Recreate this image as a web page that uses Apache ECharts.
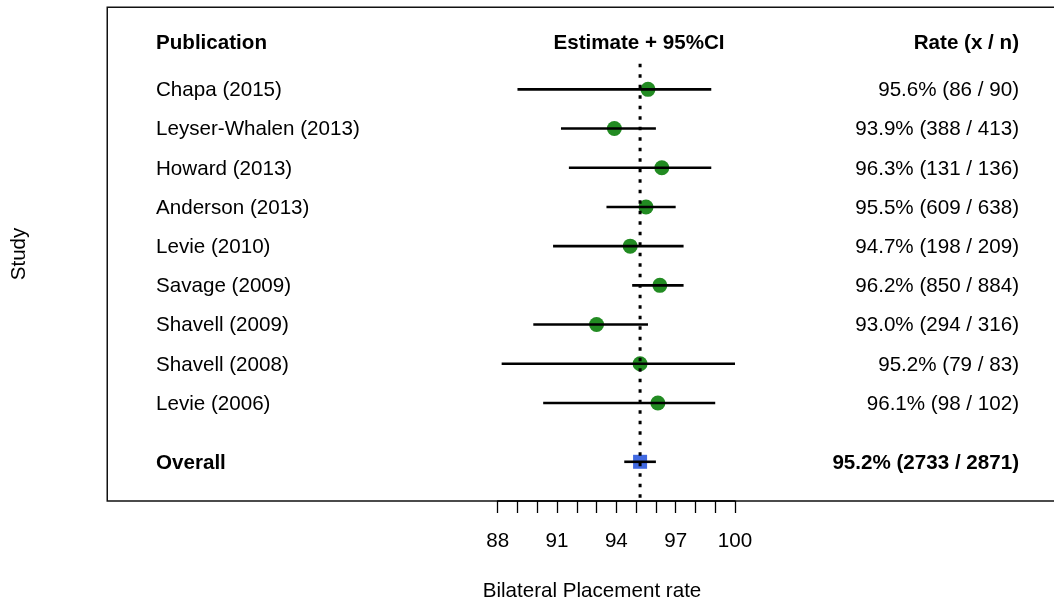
<!DOCTYPE html>
<html>
<head>
<meta charset="utf-8">
<script src="https://cdn.jsdelivr.net/npm/echarts@6/dist/echarts.min.js"></script>
<style>
html,body{margin:0;padding:0;background:#fff;}
#chart{width:1054px;height:603px;}
</style>
</head>
<body>
<div id="chart"></div>
<script>
// ---- Data ----
const studies = ['Chapa (2015)', 'Leyser-Whalen (2013)', 'Howard (2013)', 'Anderson (2013)', 'Levie (2010)', 'Savage (2009)', 'Shavell (2009)', 'Shavell (2008)', 'Levie (2006)'];
const estimates = [95.6, 93.9, 96.3, 95.5, 94.7, 96.2, 93.0, 95.2, 96.1];
const lower = [89.0, 91.2, 91.6, 93.5, 90.8, 94.8, 89.8, 88.2, 90.3];
const upper = [98.8, 96.0, 98.8, 97.0, 97.4, 97.4, 95.6, 100.0, 99.0];
const rateLabels = ['95.6% (86 / 90)', '93.9% (388 / 413)', '96.3% (131 / 136)', '95.5% (609 / 638)', '94.7% (198 / 209)', '96.2% (850 / 884)', '93.0% (294 / 316)', '95.2% (79 / 83)', '96.1% (98 / 102)'];
const rowPos = [9, 8, 7, 6, 5, 4, 3, 2, 1];
const overallName = 'Overall';
const overallEstimate = 95.2;
const overallLower = 94.4;
const overallUpper = 96.0;
const overallRate = '95.2% (2733 / 2871)';
const overallPos = -0.5;
const headerPos = 10.2;
const headers = ['Publication', 'Estimate + 95%CI', 'Rate (x / n)'];
const xTickLabels = [88, 91, 94, 97, 100];
const xTitle = 'Bilateral Placement rate';
const yTitle = 'Study';
const refLineTop = 9.65;

// ---- Build ----
const FONT = '"Liberation Sans", Arial, sans-serif';
const FS = 20.6;
const TEXT_DY = 1.2;
const textRows = [{ y: headerPos, left: headers[0], mid: headers[1], right: headers[2], bold: true }]
  .concat(studies.map((s, i) => ({ y: rowPos[i], left: s, right: rateLabels[i], bold: false })))
  .concat([{ y: overallPos, left: overallName, right: overallRate, bold: true }]);

const ciData = studies.map((s, i) => [lower[i], upper[i], rowPos[i]]);
ciData.push([overallLower, overallUpper, overallPos]);

function mkText(x, y, txt, align, bold) {
  return {
    type: 'text',
    style: {
      text: txt, x: x, y: y + TEXT_DY,
      fill: '#000',
      font: (bold ? 'bold ' : '') + FS + 'px ' + FONT,
      align: align, textAlign: align,
      verticalAlign: 'middle', textVerticalAlign: 'middle'
    }
  };
}

const chart = echarts.init(document.getElementById('chart'), null, { renderer: 'canvas' });
const option = {
  animation: false,
  backgroundColor: '#fff',
  grid: { left: 497.7, right: 319, top: 7, bottom: 102, containLabel: false },
  xAxis: {
    type: 'value', min: 88, max: 100, interval: 1,
    axisLine: { show: true, onZero: false, lineStyle: { color: '#000', width: 1.5 } },
    axisTick: { show: true, inside: false, length: 12, lineStyle: { color: '#000', width: 1.3 } },
    axisLabel: {
      show: true, margin: 30, color: '#000', fontSize: FS, fontFamily: FONT,
      formatter: v => (xTickLabels.indexOf(v) >= 0 ? String(v) : '')
    },
    splitLine: { show: false }
  },
  yAxis: { type: 'value', min: -1.5, max: 11.1, show: false },
  graphic: [
    { type: 'rect', z: 0, shape: { x: 107.25, y: 7.25, width: 975, height: 493.75 },
      style: { fill: 'none', stroke: '#111', lineWidth: 1.5 } },
    { type: 'text', x: 19.5, y: 254, rotation: Math.PI / 2,
      style: { text: yTitle, fill: '#000', font: FS + 'px ' + FONT, align: 'center', verticalAlign: 'middle', textAlign: 'center', textVerticalAlign: 'middle' } },
    { type: 'text', x: 592, y: 591,
      style: { text: xTitle, fill: '#000', font: FS + 'px ' + FONT, align: 'center', verticalAlign: 'middle', textAlign: 'center', textVerticalAlign: 'middle' } }
  ],
  series: [
    {
      type: 'scatter', z: 2, symbol: 'circle', symbolSize: 15,
      itemStyle: { color: '#228B22', opacity: 1 },
      data: studies.map((s, i) => [estimates[i], rowPos[i]])
    },
    {
      type: 'scatter', z: 2, symbol: 'rect', symbolSize: 14,
      itemStyle: { color: '#4169E1', opacity: 1 },
      data: [[overallEstimate, overallPos]]
    },
    {
      type: 'custom', z: 3, clip: false,
      data: ciData,
      encode: { x: [0, 1], y: 2 },
      renderItem: function (params, api) {
        const p1 = api.coord([api.value(0), api.value(2)]);
        const p2 = api.coord([api.value(1), api.value(2)]);
        return { type: 'line', shape: { x1: p1[0], y1: p1[1], x2: p2[0], y2: p2[1] },
          style: { stroke: '#000', lineWidth: 2.6 } };
      }
    },
    {
      type: 'custom', z: 4, clip: false,
      data: [[overallEstimate, refLineTop, -1.5]],
      encode: { x: 0, y: [1, 2] },
      renderItem: function (params, api) {
        const p1 = api.coord([api.value(0), api.value(1)]);
        const p2 = api.coord([api.value(0), api.value(2)]);
        return { type: 'line', shape: { x1: p1[0], y1: p1[1], x2: p2[0], y2: p2[1] },
          style: { stroke: '#000', lineWidth: 3, lineDash: [3.5, 7], lineCap: 'butt' } };
      }
    },
    {
      type: 'custom', z: 5, clip: false,
      data: textRows.map(r => [88, r.y]),
      encode: { x: 0, y: 1 },
      renderItem: function (params, api) {
        const r = textRows[params.dataIndex];
        const py = api.coord([88, api.value(1)])[1];
        const children = [mkText(156, py, r.left, 'left', r.bold), mkText(1019, py, r.right, 'right', r.bold)];
        if (r.mid) children.push(mkText(639, py, r.mid, 'center', r.bold));
        return { type: 'group', children: children };
      }
    }
  ]
};
chart.setOption(option);
</script>
</body>
</html>
